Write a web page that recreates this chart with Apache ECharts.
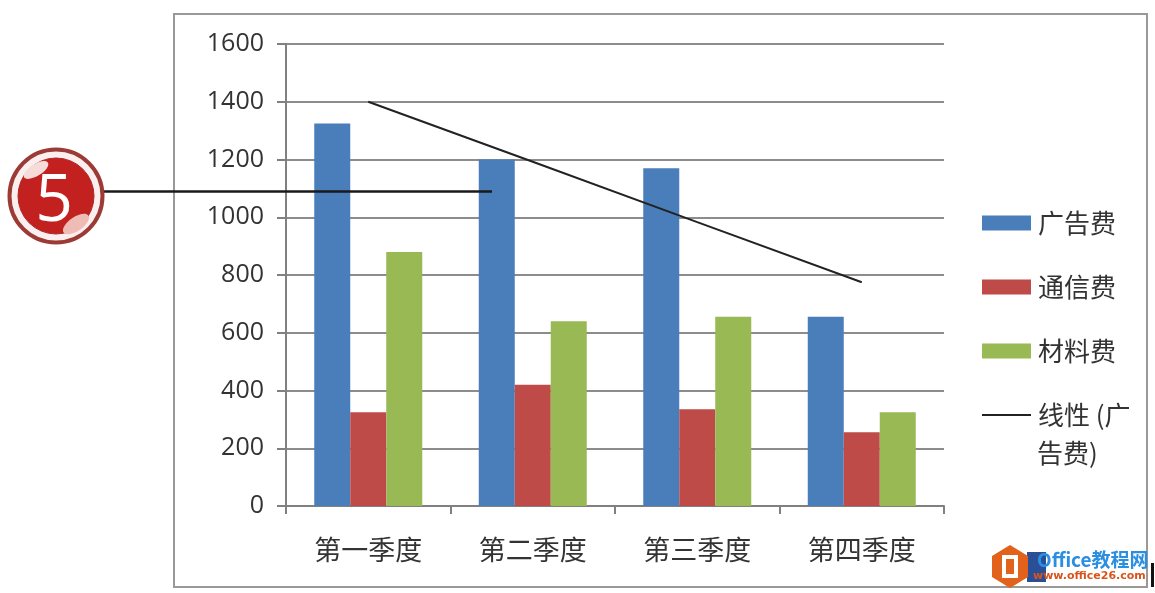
<!DOCTYPE html>
<html><head><meta charset="utf-8">
<style>html,body{margin:0;padding:0;background:#fff}#c{width:1155px;height:593px}</style>
<script src="https://cdn.jsdelivr.net/npm/echarts@6/dist/echarts.min.js"></script>
</head><body><div id="c"></div>
<script>
const categories = ['第一季度','第二季度','第三季度','第四季度'];
const adFee = [1325,1200,1170,655];
const commFee = [325,420,335,255];
const materialFee = [880,640,655,325];
const adTrend = [1400,1192,983,775];
const yTicks = {min:0,max:1600,interval:200};
const cjk = '"Noto Sans CJK SC"';
const ink = '#333';
const trendName = '线性 (广告费)';
const chart = echarts.init(document.getElementById('c'),null,{renderer:'canvas'});
const bar = (name,data,color)=>({name,type:'bar',data,barWidth:36,barGap:0,itemStyle:{color}});
chart.setOption({
  animation:false,
  backgroundColor:'#fff',
  grid:{left:286,right:211,top:44,bottom:87},
  legend:{
    left:976,top:205,orient:'vertical',itemWidth:49,itemHeight:15,itemGap:38,
    textStyle:{fontFamily:cjk,fontSize:26,color:ink,padding:[0,0,0,2]},
    data:[{name:'广告费',icon:'rect'},{name:'通信费',icon:'rect'},{name:'材料费',icon:'rect'},
      {name:trendName,itemStyle:{opacity:0},lineStyle:{color:'#222',width:2,opacity:1}}],
    formatter:n=>n===trendName?'线性 (广':n,
    selectedMode:false
  },
  xAxis:{type:'category',data:categories,
    axisLine:{lineStyle:{color:'#808080',width:2}},
    axisTick:{show:true,length:8,lineStyle:{color:'#808080',width:2}},
    axisLabel:{fontFamily:cjk,fontSize:27,color:ink,margin:30}},
  yAxis:{type:'value',...yTicks,
    axisLine:{show:true,lineStyle:{color:'#808080',width:2}},
    axisTick:{show:true,length:9,lineStyle:{color:'#808080',width:2}},
    splitLine:{lineStyle:{color:'#8c8c8c',width:2}},
    axisLabel:{fontFamily:'"Open Sans"',fontSize:25,color:ink,margin:22,formatter:v=>String(v)}},
  series:[
    bar('广告费',adFee,'#4a7ebb'),
    bar('通信费',commFee,'#be4b48'),
    bar('材料费',materialFee,'#98b954'),
    {name:trendName,type:'line',data:adTrend,symbol:'none',z:5,
      itemStyle:{color:'#222'},lineStyle:{color:'#222',width:2}}
  ],
  graphic:[
    {type:'rect',z:-1,shape:{x:174,y:14,width:973,height:573},style:{fill:'none',stroke:'#999',lineWidth:2}},
    {type:'line',z:100,shape:{x1:104,y1:191.5,x2:492,y2:191.5},style:{stroke:'#1a1a1a',lineWidth:2.5}},
    {type:'circle',z:101,shape:{cx:56,cy:196,r:46.5},style:{fill:'#fbeeee',stroke:'#9c3a36',lineWidth:4}},
    {type:'circle',z:102,shape:{cx:56,cy:196,r:38},style:{fill:'#c2211f',stroke:'#a82a28',lineWidth:1}},
    {type:'ellipse',z:103,rotation:0.55,originX:36,originY:170,shape:{cx:36,cy:170,rx:14,ry:6},style:{fill:'#f6dcd8'}},
    {type:'ellipse',z:103,rotation:0.6,originX:76,originY:224,shape:{cx:76,cy:224,rx:15,ry:7},style:{fill:'#eebcb4'}},
    {type:'text',z:104,style:{x:54,y:202,text:'5',align:'center',verticalAlign:'middle',fill:'#fff',font:'66px "Open Sans"'}},
    {type:'text',z:20,style:{x:1037,y:453,text:'告费)',align:'left',verticalAlign:'middle',fill:ink,font:'26px "Noto Sans CJK SC"'}},
    {type:'polygon',z:110,shape:{points:[[1010,545],[1028,556],[1028,577],[1010,588],[992,577],[992,556]]},style:{fill:'#e2611b'}},
    {type:'rect',z:109,shape:{x:1027,y:552,width:19,height:30},style:{fill:'#2b4f96'}},
    {type:'rect',z:111,shape:{x:1004,y:557,width:12,height:19},style:{fill:'none',stroke:'#fff',lineWidth:4}},
    {type:'text',z:112,style:{x:1037,y:560,text:'Office教程网',align:'left',verticalAlign:'middle',fill:'#2a8fe0',font:'bold 19px "Noto Sans CJK SC"'}},
    {type:'text',z:112,style:{x:1033,y:576,text:'www.office26.com',align:'left',verticalAlign:'middle',fill:'#d9541a',font:'bold 11px "DejaVu Sans"'}},
    {type:'rect',z:112,shape:{x:1151,y:563,width:3,height:24},style:{fill:'#111'}}
  ]
});
</script></body></html>
